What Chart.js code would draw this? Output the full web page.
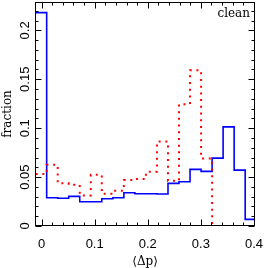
<!DOCTYPE html>
<html>
<head>
<meta charset="utf-8">
<script src="https://cdn.jsdelivr.net/npm/chart.js@4.4.1/dist/chart.umd.min.js"></script>
<style>
  html, body { margin: 0; padding: 0; background: #fff; }
</style>
</head>
<body>
<canvas id="c" width="266" height="268"></canvas>
<script>
/* DATA */

// histogram bin edges in <Δp> (20 bins)
const binEdges = [-0.0112, 0.0096, 0.0304, 0.0511, 0.0719, 0.0927, 0.1134, 0.1342, 0.1550, 0.1758,
                  0.1965, 0.2173, 0.2381, 0.2588, 0.2796, 0.3004, 0.3212, 0.3419, 0.3627, 0.3835, 0.4042];

// solid blue histogram
const blueFrac = [0.2181, 0.0289, 0.0283, 0.0303, 0.0248, 0.0248, 0.0279, 0.0289, 0.0340, 0.0330,
                  0.0330, 0.0327, 0.0436, 0.0452, 0.0579, 0.0558, 0.0694, 0.1013, 0.0571, 0.0068];

// dotted red histogram
const redFrac  = [0.0531, 0.0626, 0.0436, 0.0421, 0.0313, 0.0523, 0.0330, 0.0360, 0.0469, 0.0480,
                  0.0554, 0.0864, 0.0462, 0.1245, 0.1592, 0.0691, 0, 0, 0, 0];

const xMajor = [0, 0.1, 0.2, 0.3, 0.4];
const xTickLabels = ['0', '0.1', '0.2', '0.3', '0.4'];
const yMajor = [0, 0.05, 0.1, 0.15, 0.2];
const yTickLabels = ['0', '0.05', '0.1', '0.15', '0.2'];

/* CHART */

const steps = vals => binEdges.map((x, i) => ({ x, y: vals[Math.min(i, vals.length - 1)] }));
const near = (v, list) => list.findIndex(m => Math.abs(v - m) < 1e-6);

const frame = {
  id: 'frame',
  afterDatasetsDraw(chart) {
    const { ctx, chartArea: a, scales: { x, y } } = chart;
    const L = Math.round(a.left) - 0.5, R = Math.round(a.right) + 0.5;
    const T = Math.round(a.top) + 0.5, B = Math.round(a.bottom) - 0.5;
    ctx.save();
    ctx.strokeStyle = '#000';
    ctx.lineWidth = 1;
    ctx.strokeRect(L, T, R - L, B - T);

    // inward ticks on all four sides
    ctx.beginPath();
    x.ticks.forEach(t => {
      const px = Math.round(x.getPixelForValue(t.value)) + 0.5;
      const len = near(t.value, xMajor) >= 0 ? 6 : 3;
      ctx.moveTo(px, B); ctx.lineTo(px, B - len);
      ctx.moveTo(px, T); ctx.lineTo(px, T + len);
    });
    y.ticks.forEach(t => {
      const py = Math.round(y.getPixelForValue(t.value)) + 0.5;
      const len = near(t.value, yMajor) >= 0 ? 6 : 3;
      ctx.moveTo(L, py); ctx.lineTo(L + len, py);
      ctx.moveTo(R, py); ctx.lineTo(R - len, py);
    });
    ctx.stroke();

    // rotated y tick labels
    ctx.fillStyle = '#000';
    ctx.font = '13px "Liberation Sans"';
    ctx.textAlign = 'center';
    ctx.textBaseline = 'middle';
    yMajor.forEach((v, i) => {
      ctx.save();
      ctx.translate(25, y.getPixelForValue(v));
      ctx.rotate(-Math.PI / 2);
      ctx.fillText(yTickLabels[i], 0, 0);
      ctx.restore();
    });

    ctx.font = '12px "DejaVu Serif"';
    ctx.textAlign = 'right';
    ctx.textBaseline = 'alphabetic';
    ctx.fillText('clean', 250, 17);
    ctx.restore();
  }
};

new Chart(document.getElementById('c'), {
  type: 'line',
  data: {
    datasets: [
      { data: steps(redFrac), borderColor: '#ff0000', borderWidth: 2, borderDash: [2, 4.7],
        borderCapStyle: 'butt', stepped: true, pointRadius: 0, fill: false },
      { data: steps(blueFrac), borderColor: '#0000ff', borderWidth: 1.6,
        stepped: true, pointRadius: 0, fill: false },
    ]
  },
  options: {
    responsive: false,
    animation: false,
    devicePixelRatio: 1,
    layout: { padding: { top: 2, right: 8, left: 0, bottom: 0 } },
    plugins: { legend: { display: false }, tooltip: { enabled: false } },
    scales: {
      x: {
        type: 'linear', min: -0.0105, max: 0.4005,
        grid: { display: false }, border: { display: false },
        ticks: {
          stepSize: 0.02, includeBounds: false, autoSkip: false, maxRotation: 0, padding: 3,
          color: '#000', font: { family: 'Liberation Sans', size: 13 },
          callback: v => { const i = near(v, xMajor); return i >= 0 ? xTickLabels[i] : ''; }
        },
        title: { display: true, text: '⟨Δp⟩', color: '#000',
                 font: { family: 'DejaVu Serif', size: 12, lineHeight: 1 }, padding: { top: 0, bottom: 0 } },
        afterFit: s => { s.height = 42; }
      },
      y: {
        type: 'linear', min: 0, max: 0.229,
        grid: { display: false }, border: { display: false },
        ticks: { stepSize: 0.01, includeBounds: false, display: false },
        title: { display: true, text: 'fraction', color: '#000',
                 font: { family: 'DejaVu Serif', size: 12, lineHeight: 1.2 }, padding: { top: 1, bottom: 0 } },
        afterFit: s => { s.width = 36; }
      }
    }
  },
  plugins: [frame]
});
</script>
</body>
</html>
